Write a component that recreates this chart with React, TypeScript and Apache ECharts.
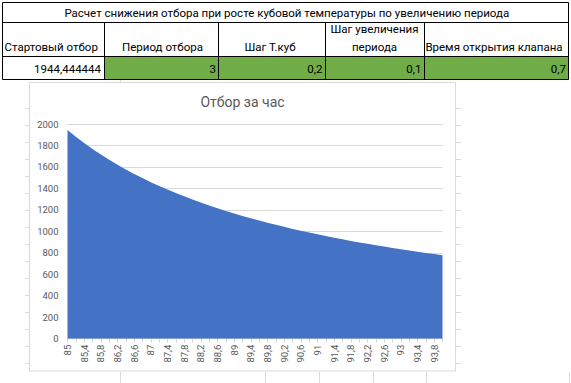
import React, { useEffect, useRef } from "react";
import * as echarts from "echarts";

const tableTitle = "Расчет снижения отбора при росте кубовой температуры по увеличению периода";
const headers = ["Стартовый отбор", "Период отбора", "Шаг Т.куб", "Шаг увеличения", "Время открытия клапана"];
const headerSecondLine = ["", "", "", "периода", ""];
const params = ["1944,444444", "3", "0,2", "0,1", "0,7"];
const chartTitle = "Отбор за час";

const categories = [
  "85", "85,2", "85,4", "85,6", "85,8", "86", "86,2", "86,4", "86,6", "86,8",
  "87", "87,2", "87,4", "87,6", "87,8", "88", "88,2", "88,4", "88,6", "88,8",
  "89", "89,2", "89,4", "89,6", "89,8", "90", "90,2", "90,4", "90,6", "90,8",
  "91", "91,2", "91,4", "91,6", "91,8", "92", "92,2", "92,4", "92,6", "92,8",
  "93", "93,2", "93,4", "93,6", "93,8", "94",
];
const values = [
  1944, 1882, 1823, 1768, 1716, 1667, 1620, 1577, 1535, 1496,
  1458, 1423, 1389, 1357, 1326, 1296, 1268, 1241, 1215, 1190,
  1167, 1144, 1122, 1101, 1080, 1061, 1042, 1023, 1006, 989,
  972, 956, 941, 926, 911, 897, 884, 871, 858, 845,
  833, 822, 810, 799, 788, 778,
];
const yMin = 0;
const yMax = 2000;
const yStep = 200;

const TABLE_FONT = "Roboto, 'Liberation Sans', sans-serif";

function txt(text: string, x: number, y: number, align: string, size: number, color = "#000", family = TABLE_FONT, weight = "normal") {
  return {
    type: "text",
    x,
    y,
    z: 10,
    style: {
      text,
      fill: color,
      fontSize: size,
      fontFamily: family,
      fontWeight: weight,
      align,
      textAlign: align,
      verticalAlign: "middle",
      textVerticalAlign: "middle",
    },
  };
}

function ln(x1: number, y1: number, x2: number, y2: number, color: string, z = 5) {
  return {
    type: "line",
    z,
    shape: { x1, y1, x2, y2 },
    style: { stroke: color, lineWidth: 1 },
  };
}

export default function App() {
  const ref = useRef<HTMLDivElement>(null);

  useEffect(() => {
    document.body.style.margin = "0";
    const chart = echarts.init(ref.current!, null, { renderer: "svg", width: 571, height: 383 });

    const colX = [2.5, 104.5, 218.5, 325.5, 424.5, 568.5];
    const rowY = [2.5, 22.5, 56.5, 79.5];
    const sheetGrid = "#DADADA";
    const g: any[] = [];

    // sheet gridline fragments
    for (let y = 108.5; y < 372; y += 17) {
      g.push(ln(25, y, 29, y, sheetGrid, 1));
      g.push(ln(456, y, 461, y, sheetGrid, 1));
    }
    [120.5, 265.5, 319.5, 373.5, 426.5, 569.5].forEach((x) => g.push(ln(x, 372, x, 383, sheetGrid, 1)));
    g.push(ln(120.5, 80, 120.5, 82, sheetGrid, 1));

    // chart area
    g.push({
      type: "rect",
      z: -10,
      shape: { x: 29.5, y: 82.5, width: 426, height: 288.5 },
      style: { fill: "#fff", stroke: "#D9D9D9", lineWidth: 1 },
    });

    // table green cells
    for (let i = 1; i < 5; i++) {
      g.push({
        type: "rect",
        z: 4,
        shape: { x: colX[i], y: rowY[2], width: colX[i + 1] - colX[i], height: rowY[3] - rowY[2] },
        style: { fill: "#70AD47" },
      });
    }
    // table borders
    g.push(ln(colX[0], rowY[0], colX[5], rowY[0], "#000"));
    rowY.slice(1).forEach((y) => g.push(ln(colX[0], y, colX[5], y, "#000")));
    g.push(ln(colX[0], rowY[0], colX[0], rowY[3], "#000"));
    g.push(ln(colX[5], rowY[0], colX[5], rowY[3], "#000"));
    for (let i = 1; i < 5; i++) g.push(ln(colX[i], rowY[1], colX[i], rowY[3], "#000"));

    // table texts
    const fs = 11.5;
    g.push(txt(tableTitle, 286.8, 13, "center", fs));
    const headerX = [4.5, 162.5, 270, 374.5, 494];
    headers.forEach((h, i) => {
      const two = headerSecondLine[i] !== "";
      g.push(txt(h, headerX[i], two ? 29 : 47, i === 0 ? "left" : "center", fs));
      if (two) g.push(txt(headerSecondLine[i], headerX[i], 47, "center", fs));
    });
    const valX = [101, 216, 322.5, 421.5, 566];
    params.forEach((p, i) => g.push(txt(p, valX[i], 68.5, "right", fs)));

    // chart title
    g.push(txt(chartTitle, 242.5, 101.5, "center", 14, "#595959", "Roboto, sans-serif"));

    chart.setOption({
      animation: false,
      backgroundColor: "#fff",
      grid: {
        left: 67.5,
        right: 571 - 442.5,
        top: 124,
        bottom: 383 - 338.7,
        containLabel: false,
        outerBoundsMode: "none",
      },
      xAxis: {
        type: "category",
        data: categories,
        boundaryGap: false,
        axisLine: { show: true, lineStyle: { color: "#D9D9D9", width: 1 } },
        axisTick: { show: true, interval: 0, length: 4, lineStyle: { color: "#D9D9D9" } },
        axisLabel: {
          interval: 1,
          rotate: 90,
          margin: 6,
          color: "#595959",
          fontSize: 9.5,
          fontFamily: "Roboto, sans-serif",
        },
        splitLine: { show: false },
      },
      yAxis: {
        type: "value",
        min: yMin,
        max: yMax,
        interval: yStep,
        axisLine: { show: false },
        axisTick: { show: false },
        axisLabel: {
          margin: 9,
          color: "#595959",
          fontSize: 9.5,
          fontFamily: "Roboto, sans-serif",
          formatter: (v: number) => String(v),
        },
        splitLine: { show: true, lineStyle: { color: "#D9D9D9", width: 1 } },
      },
      series: [
        {
          type: "line",
          data: values,
          showSymbol: false,
          symbol: "none",
          lineStyle: { width: 0, color: "#4472C4" },
          itemStyle: { color: "#4472C4" },
          areaStyle: { color: "#4472C4", opacity: 1 },
          z: 3,
        },
      ],
      graphic: { elements: g },
    });

    return () => chart.dispose();
  }, []);

  return (
    <div
      ref={ref}
      style={{ width: 571, height: 383, position: "absolute", left: 0, top: 0, background: "#fff" }}
    />
  );
}
